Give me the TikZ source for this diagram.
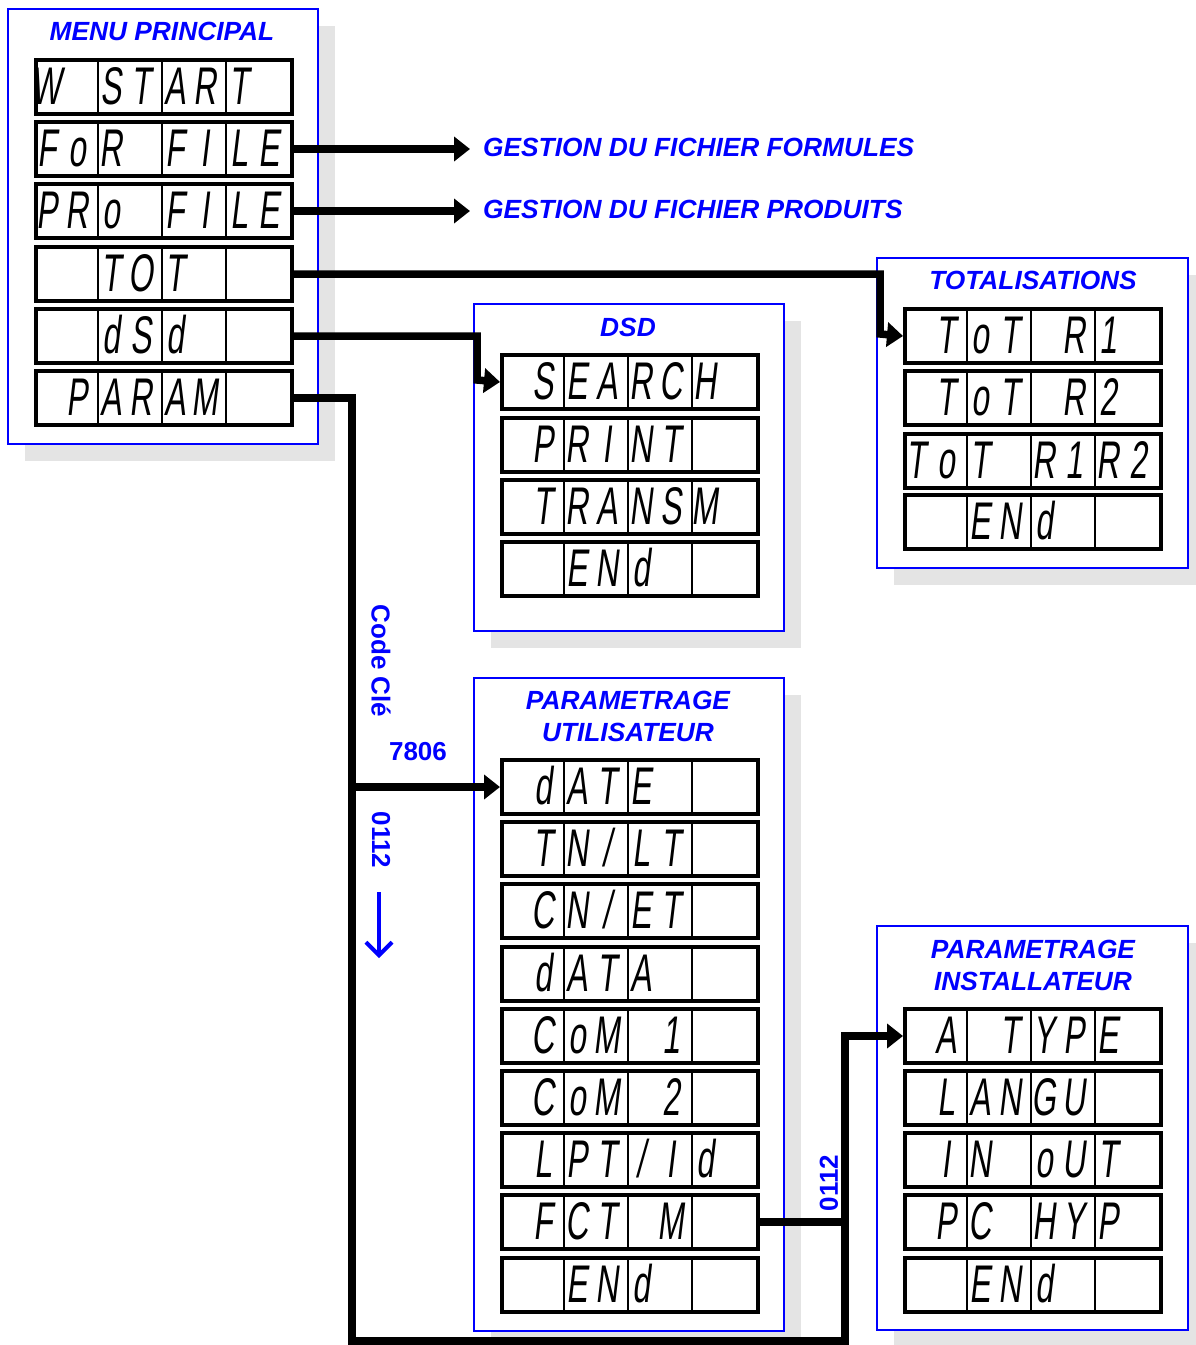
\documentclass[tikz,border=0pt]{standalone}
\usepackage{fontspec}
\setmainfont{Liberation Sans}
\newfontfamily\segfont{Liberation Sans}[FakeStretch=0.6,FakeSlant=0.12]
\usetikzlibrary{arrows.meta,calc}
\definecolor{tblue}{RGB}{0,0,255}
\definecolor{shadowgray}{RGB}{228,228,228}
\tikzset{
  frame/.style={draw=tblue, line width=1.5pt, fill=white, inner sep=0pt, anchor=north west},
  shadowbox/.style={fill=shadowgray},
  dispbox/.style={draw=black, line width=4pt, fill=white, minimum width=256pt, minimum height=54pt, inner sep=0pt, anchor=north west},
  divider/.style={line width=2pt},
  segchar/.style={font=\segfont\fontsize{53}{53}\selectfont, inner sep=0pt, anchor=base},
  title/.style={text=tblue, font=\bfseries\itshape\fontsize{26.3}{32}\selectfont, align=center, inner sep=0pt},
  clabel/.style={text=tblue, font=\bfseries\fontsize{26}{30}\selectfont, inner sep=0pt},
  conn/.style={line width=7.5pt, line join=miter},
  tip/.style={-{Triangle[length=16pt,width=24pt]}},
}
\newcommand\disprow[4]{%
  \node[dispbox] (#1) at (#2,#3) {};
  \foreach \k in {1,2,3}{\draw[divider] (#2+64*\k,#3) -- (#2+64*\k,#3+54);}
  \foreach \ch [count=\i] in {#4}{%
    \pgfmathsetmacro\cx{#2+64*int((\i-1)/2)+13+30*mod(\i-1,2)}%
    \node[segchar] (#1c\i) at (\cx,#3+46) {\ch};}%
}
\newcommand\panel[5]{%
  \fill[shadowbox] (#2+18,#3+18) rectangle (#4+18,#5+18);
  \node[frame, minimum width={(#4)-(#2)}, minimum height={(#5)-(#3)}] (#1) at (#2,#3) {};
}
\begin{document}
\begin{tikzpicture}[x=1pt,y=-1pt]
\useasboundingbox (0,0) rectangle (1196,1345);
\fill[white] (0,0) rectangle (1196,1345);

% panels
\panel{pmenu}{7}{8}{317}{443}
\panel{pdsd}{473}{303}{783}{630}
\panel{ptot}{876}{257}{1187}{567}
\panel{putil}{473}{677}{783}{1330}
\panel{pinst}{876}{925}{1187}{1329}

% titles
\node[title] (tmenu) at (162,31) {MENU PRINCIPAL};
\node[title] (tdsd) at (628,327) {DSD};
\node[title] (ttot) at (1033,280) {TOTALISATIONS};
\node[title] (tutil) at (628,716) {PARAMETRAGE\\UTILISATEUR};
\node[title] (tinst) at (1033,965) {PARAMETRAGE\\INSTALLATEUR};

% menu displays
\disprow{m1}{34}{58}{W,{},S,T,A,R,T,{}}
\disprow{m2}{34}{120}{F,o,R,{},F,I,L,E}
\disprow{m3}{34}{182}{P,R,o,{},F,I,L,E}
\disprow{m4}{34}{245}{{},{},T,O,T,{},{},{}}
\disprow{m5}{34}{307}{{},{},d,S,d,{},{},{}}
\disprow{m6}{34}{369}{{},P,A,R,A,M,{},{}}

% dsd displays
\disprow{d1}{500}{353}{{},S,E,A,R,C,H,{}}
\disprow{d2}{500}{416}{{},P,R,I,N,T,{},{}}
\disprow{d3}{500}{478}{{},T,R,A,N,S,M,{}}
\disprow{d4}{500}{540}{{},{},E,N,d,{},{},{}}

% totalisations
\disprow{t1}{903}{307}{{},T,o,T,{},R,1,{}}
\disprow{t2}{903}{369}{{},T,o,T,{},R,2,{}}
\disprow{t3}{903}{432}{T,o,T,{},R,1,R,2}
\disprow{t4}{903}{493}{{},{},E,N,d,{},{},{}}

% parametrage utilisateur
\disprow{u1}{500}{758}{{},d,A,T,E,{},{},{}}
\disprow{u2}{500}{820}{{},T,N,/,L,T,{},{}}
\disprow{u3}{500}{882}{{},C,N,/,E,T,{},{}}
\disprow{u4}{500}{945}{{},d,A,T,A,{},{},{}}
\disprow{u5}{500}{1007}{{},C,o,M,{},1,{},{}}
\disprow{u6}{500}{1069}{{},C,o,M,{},2,{},{}}
\disprow{u7}{500}{1131}{{},L,P,T,/,I,d,{}}
\disprow{u8}{500}{1193}{{},F,C,T,{},M,{},{}}
\disprow{u9}{500}{1256}{{},{},E,N,d,{},{},{}}

% parametrage installateur
\disprow{i1}{903}{1007}{{},A,{},T,Y,P,E,{}}
\disprow{i2}{903}{1069}{{},L,A,N,G,U,{},{}}
\disprow{i3}{903}{1131}{{},I,N,{},o,U,T,{}}
\disprow{i4}{903}{1193}{{},P,C,{},H,Y,P,{}}
\disprow{i5}{903}{1256}{{},{},E,N,d,{},{},{}}

% gestion texts
\node[title, anchor=west, inner xsep=13pt] (g1) at (470,147) {GESTION DU FICHIER FORMULES};
\node[title, anchor=west, inner xsep=13pt] (g2) at (470,209) {GESTION DU FICHIER PRODUITS};

% junction coordinates
\coordinate (jt) at (880,334);
\coordinate (jd) at (477,380);
\coordinate (jpb) at (352,1341);
\coordinate (jib) at (845,1341);

% connectors
\draw[conn,tip] (m2.east) -- (m2.east -| g1.west);
\draw[conn,tip] (m3.east) -- (m3.east -| g2.west);
\draw[conn,tip] (m4.east) -- (m4.east -| jt) -- (jt) -- (t1.west);
\draw[conn,tip] (m5.east) -- (m5.east -| jd) -- (jd) -- (d1.west);
\draw[conn,tip] (m6.east) -| (jpb) -- (jib) -- (i1.west -| jib) -- (i1.west);
\draw[conn,tip] (u1.west -| jpb) -- (u1.west);
\draw[conn] (u8.east) -- (u8.east -| jib);

% labels
\node[clabel, rotate=-90] (codecle) at (381,661) {Code Clé};
\node[clabel] (c7806) at (418,752) {7806};
\node[clabel, rotate=-90] (c0112a) at (381,840) {0112};
\node[clabel, rotate=90] (c0112b) at (829,1183) {0112};
\coordinate (ba1) at (379,892);
\coordinate (ba2) at (379,958);
\draw[tblue, line width=4pt, -{Straight Barb[length=13pt,width=26pt]}] (ba1) -- (ba2);
\end{tikzpicture}
\end{document}
